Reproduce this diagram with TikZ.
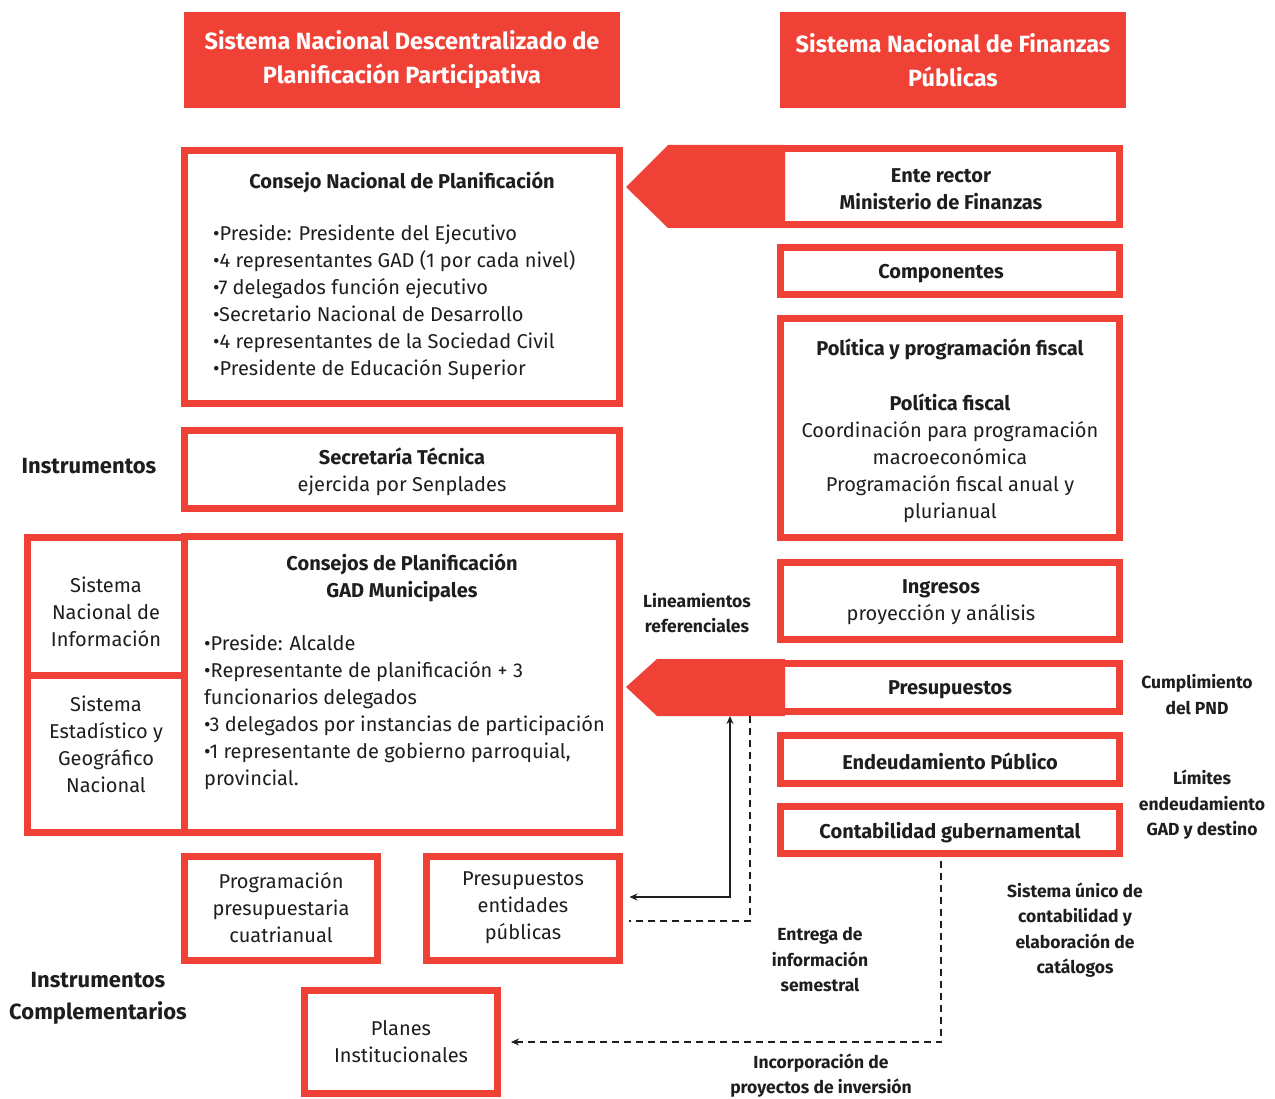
\documentclass[tikz,border=0pt]{standalone}
\usepackage{fontspec}
\setmainfont{Fira Sans}
\usetikzlibrary{arrows.meta}
\definecolor{redc}{RGB}{239,65,54}
\definecolor{inkc}{RGB}{30,30,30}

\begin{document}
\begin{tikzpicture}[x=1pt,y=-1pt,
  box/.style={draw=redc, line width=7pt, inner sep=0pt, align=center, text=inkc, font=\fontsize{20}{27}\selectfont},
  hdr/.style={fill=redc, text=white, inner sep=0pt, align=center, font=\bfseries\fontsize{23.5}{34}\selectfont},
  txt/.style={text=inkc, inner sep=0pt, align=center, yshift=-2.5pt, font=\fontsize{20}{27}\selectfont},
  txtb/.style={txt, font=\bfseries\fontsize{20}{27}\selectfont},
  note/.style={text=inkc, inner sep=0pt, align=center, yshift=-1.5pt, font=\bfseries\fontsize{17.5}{25.5}\selectfont},
  link/.style={draw=inkc, line width=1.3pt}]
\useasboundingbox (0,0) rectangle (1275,1099);

% headers
\node[hdr, minimum width=436pt, minimum height=96pt] (hdrL) at (402,60) {Sistema Nacional Descentralizado de\\Planificación Participativa};
\node[hdr, minimum width=346pt, minimum height=96pt] (hdrR) at (953,60) {Sistema Nacional de Finanzas\\Públicas};

% left column
\node[box, minimum width=435pt, minimum height=252pt] (consejoN) at (402,277) {};
\node[txtb] (consejoNt) at (402,180) {Consejo Nacional de Planificación};
\node[txt, align=left, anchor=west] (consejoNl) at (213,300) {•Preside: Presidente del Ejecutivo\\•4 representantes GAD (1 por cada nivel)\\•7 delegados función ejecutivo\\•Secretario Nacional de Desarrollo\\•4 representantes de la Sociedad Civil\\•Presidente de Educación Superior};

\node[box, minimum width=435pt, minimum height=78pt] (secre) at (402,469.5) {};
\node[txt] (secret) at (402,469.5) {\textbf{Secretaría Técnica}\\ejercida por Senplades};
\node[txtb, font=\bfseries\fontsize{22}{32}\selectfont] (instr) at (89,464) {Instrumentos};

\node[box, minimum width=157pt, minimum height=138pt] (sni) at (106,606) {};
\node[txt] (snit) at (106,609) {Sistema\\Nacional de\\Información};
\node[box, minimum width=157pt, minimum height=157pt] (segn) at (106,753.5) {};
\node[txt] (segnt) at (106,742) {Sistema\\Estadístico y\\Geográfico\\Nacional};

\node[box, minimum width=435pt, minimum height=296pt] (consejoM) at (402,684.5) {};
\node[txtb] (consejoMt) at (402,575.5) {Consejos de Planificación\\GAD Municipales};
\node[txt, align=left, anchor=west] (consejoMl) at (204,709.5) {•Preside: Alcalde\\•Representante de planificación + 3\\funcionarios delegados\\•3 delegados por instancias de participación\\•1 representante de gobierno parroquial,\\provincial.};

\node[box, minimum width=193pt, minimum height=104pt] (progr) at (281,908.5) {};
\node[txt] (progrt) at (281,905.5) {Programación\\presupuestaria\\cuatrianual};
\node[box, minimum width=193pt, minimum height=104pt] (presEnt) at (523,908.5) {};
\node[txt] (presEntt) at (523,905.5) {Presupuestos\\entidades\\públicas};
\node[box, minimum width=193pt, minimum height=103pt] (planes) at (401,1042) {};
\node[txt] (planest) at (401,1039) {Planes\\Institucionales};
\node[txtb, font=\bfseries\fontsize{22}{32}\selectfont] (instrC) at (98,996) {Instrumentos\\Complementarios};

% right column
\node[box, minimum width=339pt, minimum height=76pt] (ente) at (950,186.5) {};
\node[txtb] (entet) at (941,186.5) {Ente rector\\Ministerio de Finanzas};
\node[box, minimum width=339pt, minimum height=47pt] (comp) at (950,271) {};
\node[txtb] (compt) at (941,271) {Componentes};
\node[box, minimum width=339pt, minimum height=219pt] (polit) at (950,428) {};
\node[txtb] (politt) at (950,347) {Política y programación fiscal};
\node[txt] (politl) at (950,456) {\textbf{Política fiscal}\\Coordinación para programación\\macroeconómica\\Programación fiscal anual y\\plurianual};
\node[box, minimum width=339pt, minimum height=77pt] (ingr) at (950,601) {};
\node[txt] (ingrt) at (941,599.5) {\textbf{Ingresos}\\proyección y análisis};
\node[box, minimum width=339pt, minimum height=48pt] (presu) at (950,687.5) {};
\node[txtb] (presut) at (950,687) {Presupuestos};
\node[box, minimum width=339pt, minimum height=48pt] (endeu) at (950,759.5) {};
\node[txtb] (endeut) at (950,759) {Endeudamiento Público};
\node[box, minimum width=339pt, minimum height=47pt] (conta) at (950,830) {};
\node[txtb] (contat) at (950,830) {Contabilidad gubernamental};

% big arrows
\fill[redc] (626,187) -- (668,145) -- (785,145) -- (785,228) -- (668,228) -- cycle;
\fill[redc] (626,687) -- (657,659) -- (785,659) -- (785,716) -- (657,716) -- cycle;

% labels
\node[note] (linea) at (697,611.5) {Lineamientos\\referenciales};
\node[note] (cumpl) at (1197,693) {Cumplimiento\\del PND};
\node[note] (limit) at (1202,803.5) {Límites\\endeudamiento\\GAD y destino};
\node[note] (sisuni) at (1075,928.5) {Sistema único de\\contabilidad y\\elaboración de\\catálogos};
\node[note] (entrega) at (820,958.5) {Entrega de\\información\\semestral};
\node[note] (incorp) at (821,1074) {Incorporación de\\proyectos de inversión};

% connectors
\coordinate (presA) at (730,716);
\coordinate (presB) at (750,716);
\draw[link, {Stealth[length=8pt,width=7pt]}-{Stealth[length=8pt,width=7pt]}] (presA) |- ([xshift=6.5pt,yshift=11.5pt]presEnt.east);
\draw[link, dash pattern=on 7pt off 5pt] (presB) |- ([xshift=6pt,yshift=-12.5pt]presEnt.east);
\draw[link, dash pattern=on 7pt off 5pt, -{Stealth[length=8pt,width=7pt]}] ([xshift=-9pt,yshift=-3.5pt]conta.south) |- ([xshift=10pt]planes.east);
\end{tikzpicture}
\end{document}
